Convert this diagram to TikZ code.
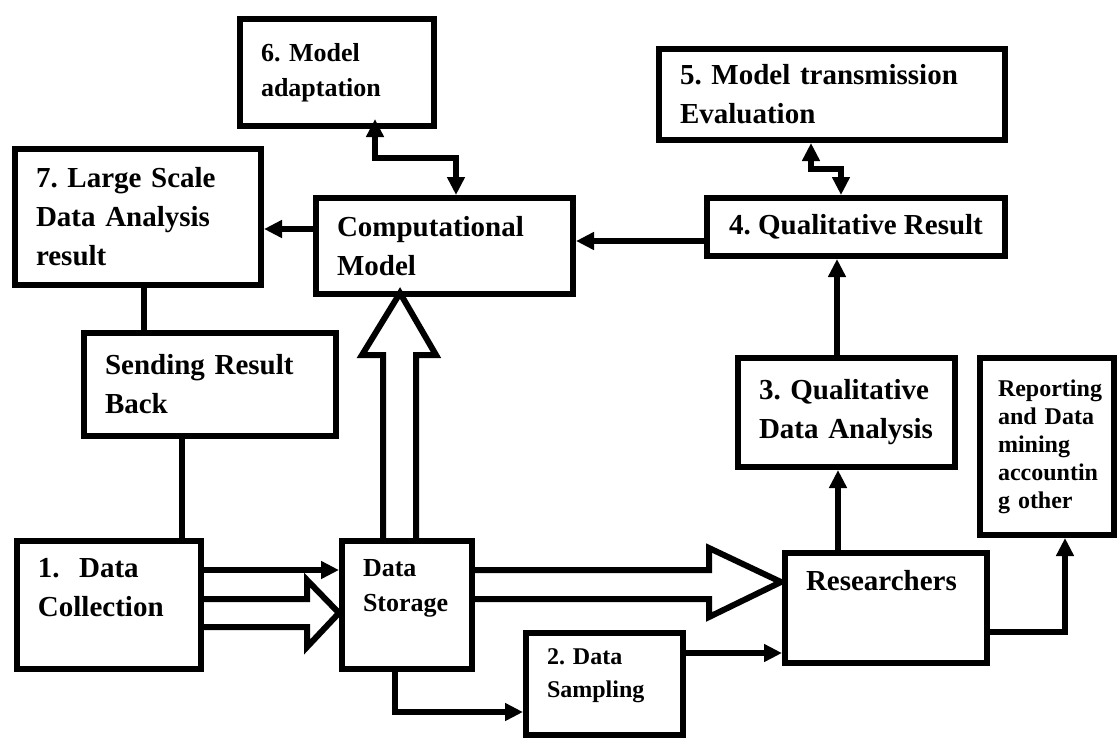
\documentclass[tikz,border=0pt]{standalone}
\usepackage{fontspec}
\setmainfont{Liberation Serif}
\usetikzlibrary{arrows.meta}
\frenchspacing
\hyphenpenalty=10000

\begin{document}
\begin{tikzpicture}[
            x = 0.5pt, y = -0.5pt, % one unit is one pixel of the sketch
            > = {Triangle[length=9pt, width=8.5pt]}, % arrow head style
            line width = 3pt, % heavy lines everywhere
            box/.style = {draw, inner sep=0pt, align=left,
                font=\bfseries\fontsize{14.5}{19.5}\selectfont},
            mid/.style = {font=\bfseries\fontsize{13}{17.5}\selectfont},
            tiny/.style = {font=\bfseries\fontsize{12}{16.5}\selectfont},
            hollow/.style = {line join=miter}
        ]
        \useasboundingbox (0,0) rectangle (1119,740);

        \node[box, mid, minimum width=97pt, minimum height=53.5pt, text width=76pt] (adapt) at (337,72.5) {6. Model\\adaptation};
        \node[box, minimum width=123pt, minimum height=68pt, text width=102pt] (large) at (138,217) {7. Large Scale\\Data Analysis\\result};
        \node[box, minimum width=128.5pt, minimum height=48pt, text width=107.5pt] (comp) at (444.5,246) {Computational\\Model};
        \node[box, minimum width=126pt, minimum height=51.5pt, text width=105pt] (send) at (210,384.5) {Sending Result\\Back};
        \node[box, minimum width=92pt, minimum height=64pt, text width=71pt, text depth=37pt] (coll) at (109,605) {1.\ \ Data\\Collection};
        \node[box, mid, minimum width=65pt, minimum height=64pt, text width=44pt, text depth=37pt] (store) at (407,605) {Data\\Storage};
        \node[box, tiny, minimum width=78.5pt, minimum height=51pt, text width=57.5pt, text depth=27pt] (sampl) at (604.5,684) {2. Data\\Sampling};
        \node[box, minimum width=101pt, minimum height=55pt, text width=80pt, text depth=28pt] (resr) at (886,608) {Researchers};
        \node[box, minimum width=108.5pt, minimum height=54.5pt, text width=87.5pt] (qda) at (846.5,412.5) {3. Qualitative\\Data Analysis};
        \node[box, font=\bfseries\fontsize{12}{14}\selectfont, minimum width=67pt, minimum height=88.5pt, text width=49pt] (report) at (1047,446.5) {Reporting\\and Data\\mining\\accountin\\g other};
        \node[box, align=center, minimum width=149pt, minimum height=29pt] (qres) at (856,227) {4. Qualitative Result};
        \node[box, minimum width=173pt, minimum height=45.5pt, text width=152pt] (trans) at (832,94.5) {5. Model transmission\\Evaluation};

        % plain connectors
        \draw[->] ([yshift=8.5pt]comp.west) -- ([yshift=-6pt]large.east);
        \draw[->] ([yshift=-7pt]qres.west) -- ([yshift=2.5pt]comp.east);
        \draw[<->] ([xshift=19pt, yshift=5pt]adapt.south) -- ++(0,39) -| ([xshift=5.75pt]comp.north);
        \draw[<->] ([xshift=-10.5pt]trans.south) -- ++(0,26) -| ([xshift=-7.5pt]qres.north);
        \draw ([xshift=3pt]large.south) -- ([xshift=-33pt]send.north);
        \draw ([xshift=-14pt]send.south) -- ([xshift=36.5pt]coll.north);
        \draw[->] ([yshift=17.5pt]coll.east) -- ([yshift=17.5pt]store.west);
        \draw[->] ([xshift=-6pt]store.south) |- ([yshift=-14pt]sampl.west);
        \draw[->] ([yshift=15.5pt]sampl.east) -- ([yshift=-22.5pt]resr.west);
        \draw[->] ([xshift=-24pt]resr.north) -- ([xshift=-4.25pt]qda.south);
        \draw[->] ([xshift=-4.75pt]qda.north) -- ([xshift=-9.5pt]qres.south);
        \draw[->] ([yshift=-12pt]resr.east) -| ([xshift=9pt]report.south);

        % hollow block arrows
        \draw[hollow] ([yshift=3pt]coll.east) -- ++(103,0) -- ++(0,-19) -- ++(32,33)
            -- ++(-32,34) -- ++(0,-20) -- ++(-103,0);
        \draw[hollow] ([yshift=17.5pt]store.east) -- ++(234,0) -- ++(0,-22) -- ++(72,34)
            -- ++(-72,35) -- ++(0,-18) -- ++(-234,0);
        \draw[hollow] ([xshift=-12pt]store.north) -- ++(0,-183) -- ++(-21,0) -- ++(38,-62)
            -- ++(36,62) -- ++(-20,0) -- ++(0,183);
    \end{tikzpicture}
\end{document}
